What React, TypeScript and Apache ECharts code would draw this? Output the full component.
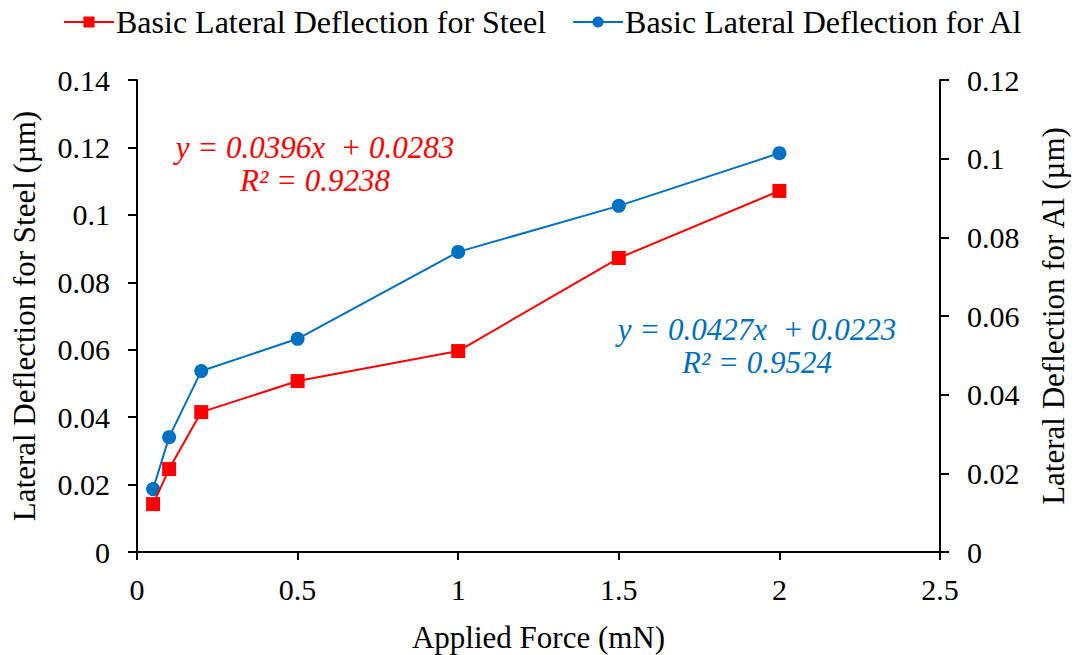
import React, { useEffect, useRef } from "react";
import * as echarts from "echarts";

const forceMN = [0.05, 0.1, 0.2, 0.5, 1, 1.5, 2];
const steelDeflection = [0.0142, 0.0246, 0.0415, 0.0507, 0.0596, 0.0872, 0.1071];
const alDeflection = [0.016, 0.0292, 0.046, 0.0542, 0.0763, 0.088, 0.1014];
const steelName = "Basic Lateral Deflection for Steel";
const alName = "Basic Lateral Deflection for Al";
const steelEq = ["y = 0.0396x  + 0.0283", "R² = 0.9238"];
const alEq = ["y = 0.0427x  + 0.0223", "R² = 0.9524"];

const FONT = "Liberation Serif";
const RED = "#FF0000";
const BLUE = "#0070C0";

export default function App() {
  const ref = useRef<HTMLDivElement>(null);
  useEffect(() => {
    document.body.style.margin = "0";
    const chart = echarts.init(ref.current!, null, { renderer: "svg" });
    const tickText = { color: "#000", fontFamily: FONT, fontSize: 30 };
    const titleText = { color: "#000", fontFamily: FONT, fontSize: 31 };
    chart.setOption({
      animation: false,
      backgroundColor: "#fff",
      textStyle: { fontFamily: FONT },
      legend: {
        top: 1,
        left: 58,
        itemWidth: 50,
        itemHeight: 14,
        itemGap: 26,
        textStyle: { ...titleText, fontSize: 32, padding: [0, 0, 0, -3] },
        data: [steelName, alName],
      },
      grid: { left: 137, right: 135, top: 80, bottom: 103, containLabel: false, outerBoundsMode: "none" },
      xAxis: {
        type: "value",
        min: 0,
        max: 2.5,
        interval: 0.5,
        name: "Applied Force (mN)",
        nameLocation: "middle",
        nameGap: 70,
        nameTextStyle: titleText,
        axisLine: { show: true, onZero: false, lineStyle: { color: "#000", width: 2 } },
        axisTick: { show: true, inside: false, length: 8, lineStyle: { color: "#000", width: 2 } },
        axisLabel: { ...tickText, margin: 22 },
        splitLine: { show: false },
      },
      yAxis: [
        {
          type: "value",
          min: 0,
          max: 0.14,
          interval: 0.02,
          position: "left",
          name: "Lateral Deflection for Steel (µm)",
          nameLocation: "middle",
          nameGap: 97,
          nameTextStyle: titleText,
          axisLine: { show: true, lineStyle: { color: "#000", width: 2 } },
          axisTick: { show: true, inside: false, length: 9, lineStyle: { color: "#000", width: 2 } },
          axisLabel: { ...tickText, margin: 27 },
          splitLine: { show: false },
        },
        {
          type: "value",
          min: 0,
          max: 0.12,
          interval: 0.02,
          position: "right",
          name: "Lateral Deflection for Al (µm)",
          nameLocation: "middle",
          nameGap: 98,
          nameRotate: 90,
          nameTextStyle: titleText,
          axisLine: { show: true, lineStyle: { color: "#000", width: 2 } },
          axisTick: { show: true, inside: false, length: 9, lineStyle: { color: "#000", width: 2 } },
          axisLabel: { ...tickText, margin: 27 },
          splitLine: { show: false },
        },
      ],
      series: [
        {
          name: steelName,
          type: "line",
          yAxisIndex: 0,
          data: forceMN.map((x, i) => [x, steelDeflection[i]]),
          symbol: "rect",
          symbolSize: 14,
          lineStyle: { color: RED, width: 2 },
          itemStyle: { color: RED },
          z: 3,
        },
        {
          name: alName,
          type: "line",
          yAxisIndex: 1,
          data: forceMN.map((x, i) => [x, alDeflection[i]]),
          symbol: "circle",
          symbolSize: 14,
          lineStyle: { color: BLUE, width: 2 },
          itemStyle: { color: BLUE },
          z: 2,
        },
      ],
      graphic: [
        {
          type: "text",
          x: 315,
          y: 164,
          style: {
            text: steelEq.join("\n"),
            align: "center",
            verticalAlign: "middle",
            fill: RED,
            font: `italic 31px ${FONT}`,
            lineHeight: 33,
          },
        },
        {
          type: "text",
          x: 757,
          y: 346,
          style: {
            text: alEq.join("\n"),
            align: "center",
            verticalAlign: "middle",
            fill: BLUE,
            font: `italic 31px ${FONT}`,
            lineHeight: 33,
          },
        },
      ],
    });
    return () => chart.dispose();
  }, []);
  return <div ref={ref} style={{ width: 1075, height: 655 }} />;
}
